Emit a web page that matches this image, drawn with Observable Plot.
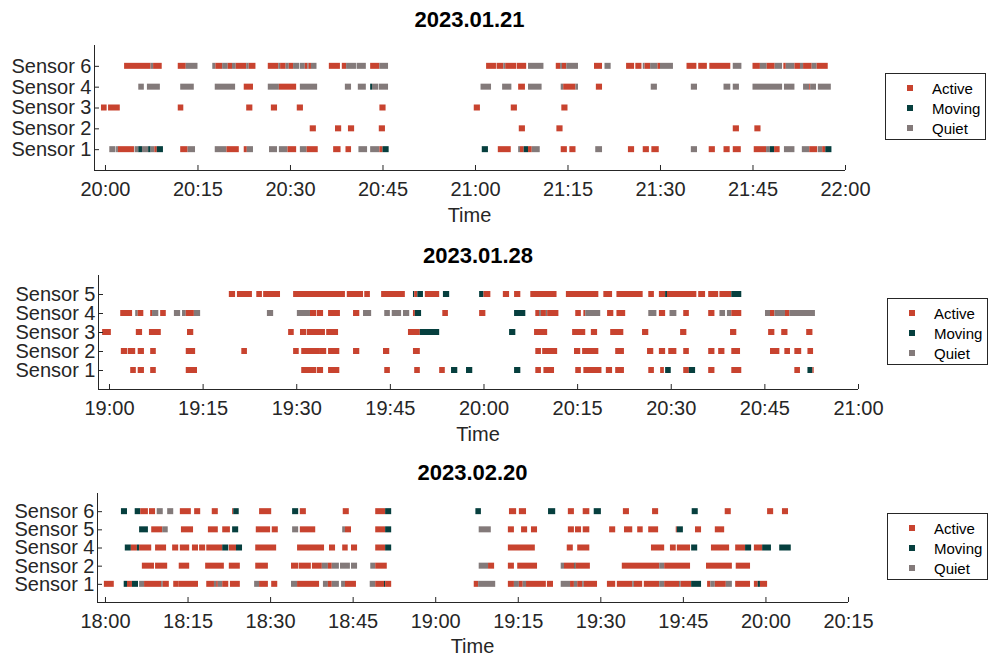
<!DOCTYPE html>
<html><head><meta charset="utf-8">
<script src="https://cdn.jsdelivr.net/npm/d3@7"></script>
<script src="https://cdn.jsdelivr.net/npm/@observablehq/plot@0.6"></script>
<style>
body{margin:0;background:#fff;}
#root{position:relative;width:994px;height:657px;font-family:"Liberation Sans",Arial,Helvetica,sans-serif;color:#262626;overflow:hidden;background:#fff}
.title{position:absolute;font-weight:bold;font-size:22px;transform:translate(-50%,-50%);white-space:nowrap;color:#000}
.xlabel{position:absolute;font-size:20px;transform:translate(-50%,-50%);white-space:nowrap;color:#262626}
.legend{position:absolute;border:1px solid #262626;background:#fff;box-sizing:border-box}
.legend .sw{position:absolute;width:6px;height:6px}
.legend .tx{position:absolute;font-size:15px;line-height:15px;transform:translateY(-50%);white-space:nowrap;color:#000}
.panel{position:absolute;left:0}
</style></head>
<body><div id="root"></div>
<script>
// ---------- data (minutes after the first tick; [start, end, state]) ----------
const stateCodes = ["A", "M", "Q"];
const stateNames = ["Active", "Moving", "Quiet"];
const stateColors = ["#c8432f", "#063f3e", "#837a7a"];

// Panel 1: 2023.01.21
const p1Title = "2023.01.21";
const p1SensorLabels = ["Sensor 6", "Sensor 4", "Sensor 3", "Sensor 2", "Sensor 1"];
const p1TickMinutes = [0, 15, 30, 45, 60, 75, 90, 105, 120];
const p1TickLabels = ["20:00", "20:15", "20:30", "20:45", "21:00", "21:15", "21:30", "21:45", "22:00"];
const p1Sensor6 = [
[3.1,7.4,"A"],[7.4,7.8,"Q"],[7.8,9.2,"A"],
[11.8,13.1,"A"],[13.1,15.0,"Q"],
[17.4,17.9,"Q"],[17.9,19.0,"A"],[19.0,19.9,"Q"],[19.9,20.6,"A"],[20.6,21.2,"Q"],[21.2,22.9,"A"],[22.9,23.3,"Q"],[23.3,24.4,"A"],
[26.4,28.1,"A"],[28.1,28.4,"Q"],[28.4,29.3,"A"],[29.3,29.8,"Q"],[29.8,30.5,"A"],[30.5,31.5,"Q"],[31.6,32.4,"Q"],[32.4,32.8,"A"],[32.8,33.0,"Q"],[33.0,33.4,"A"],[33.4,34.3,"Q"],
[36.3,38.1,"A"],[38.4,39.1,"A"],[39.1,40.7,"Q"],[40.8,42.3,"Q"],
[43.0,44.5,"A"],[44.5,45.9,"Q"],
[61.8,63.4,"A"],[63.5,64.6,"A"],[64.6,64.9,"Q"],[64.9,66.7,"A"],[66.8,68.3,"A"],[68.6,71.1,"Q"],
[73.1,73.8,"A"],[73.8,74.1,"Q"],[74.1,74.8,"A"],[74.8,76.7,"Q"],
[79.3,80.6,"A"],[81.0,82.0,"Q"],
[84.5,85.8,"A"],[86.0,87.0,"A"],[87.2,87.5,"Q"],[87.5,88.4,"A"],[88.4,89.6,"Q"],[89.6,90.0,"A"],[90.0,92.1,"Q"],
[94.3,95.9,"A"],[96.2,97.6,"A"],[98.0,101.4,"A"],[101.8,103.2,"Q"],
[105.0,106.2,"A"],[106.2,107.3,"Q"],[107.3,108.6,"A"],[108.6,109.8,"Q"],[110.0,110.4,"A"],[110.4,111.8,"Q"],[111.8,112.7,"A"],[112.7,113.2,"Q"],[113.2,114.6,"A"],[114.6,115.4,"Q"],[115.4,117.2,"A"]
];
const p1Sensor4 = [
[5.4,6.3,"Q"],[6.8,8.9,"Q"],[12.2,14.4,"Q"],[17.8,21.1,"Q"],[22.5,24.0,"A"],[26.4,28.2,"Q"],[28.2,31.0,"A"],
[31.6,34.4,"Q"],[38.9,39.9,"Q"],[41.0,42.3,"Q"],[43.0,43.3,"M"],[43.3,44.3,"Q"],[44.4,45.9,"Q"],
[60.9,62.6,"Q"],[64.4,65.9,"Q"],[67.0,68.1,"A"],[68.6,70.8,"Q"],[73.9,74.3,"Q"],[74.3,76.3,"A"],[76.3,76.7,"Q"],[79.6,80.6,"A"],[88.5,89.5,"Q"],
[95.0,96.0,"Q"],[100.3,101.4,"Q"],[101.8,102.8,"Q"],[105.0,109.8,"Q"],[110.1,111.8,"Q"],[113.2,114.2,"Q"],[114.2,114.35,"A"],[114.35,115.3,"Q"],[115.6,117.7,"Q"]
];
const p1Sensor3 = [[-0.65,0.27,"A"],[0.5,2.4,"A"],[11.8,12.7,"A"],[22.9,23.9,"A"],[26.9,27.9,"A"],[31.1,32.1,"A"],[44.5,45.5,"A"],[59.8,60.8,"A"],[65.8,66.8,"A"],[74.0,75.0,"A"]];
const p1Sensor2 = [[33.2,34.2,"A"],[37.3,38.3,"A"],[39.4,40.4,"A"],[44.4,45.4,"A"],[67.1,68.1,"A"],[73.2,74.2,"A"],[101.8,102.8,"A"],[105.3,106.3,"A"]];
const p1Sensor1 = [
[0.7,1.7,"Q"],[1.8,2.1,"Q"],[2.1,4.7,"A"],[4.8,5.4,"Q"],[5.4,6.0,"M"],[6.0,7.0,"Q"],[7.0,7.4,"M"],[7.4,8.0,"Q"],[8.0,8.4,"A"],[8.4,9.4,"M"],
[12.2,13.4,"A"],[13.4,14.6,"Q"],
[17.8,19.7,"Q"],[19.7,21.7,"A"],[22.5,23.0,"A"],[23.0,24.0,"Q"],
[26.6,27.9,"Q"],[28.2,29.6,"Q"],[29.6,31.0,"A"],[31.6,32.7,"Q"],[32.7,34.5,"A"],
[37.0,38.2,"A"],[39.0,39.9,"A"],[41.1,42.5,"Q"],[43.0,44.5,"Q"],[44.5,45.0,"A"],[45.0,46.0,"M"],
[61.1,62.1,"M"],[63.7,65.8,"A"],[67.0,67.3,"Q"],[67.3,67.9,"A"],[67.9,68.6,"M"],[68.6,69.2,"A"],[69.2,70.5,"Q"],
[73.9,74.9,"A"],[75.3,76.3,"A"],[79.5,80.6,"Q"],[84.8,85.8,"A"],[87.2,88.2,"A"],[88.6,89.8,"A"],
[95.0,96.0,"Q"],[97.9,98.9,"A"],[100.3,101.3,"A"],[101.8,103.1,"A"],
[105.2,107.2,"A"],[107.2,107.8,"Q"],[107.8,108.5,"M"],[108.5,109.4,"A"],[110.1,111.8,"Q"],
[113.0,114.2,"Q"],[114.2,115.5,"A"],[115.6,116.3,"Q"],[116.3,116.8,"A"],[116.8,117.8,"M"]
];

// Panel 2: 2023.01.28
const p2Title = "2023.01.28";
const p2SensorLabels = ["Sensor 5", "Sensor 4", "Sensor 3", "Sensor 2", "Sensor 1"];
const p2TickMinutes = [0, 15, 30, 45, 60, 75, 90, 105, 120];
const p2TickLabels = ["19:00", "19:15", "19:30", "19:45", "20:00", "20:15", "20:30", "20:45", "21:00"];
const p2Sensor5 = [
[19.2,20.2,"A"],[20.5,22.9,"A"],[23.6,24.5,"A"],[24.7,27.4,"A"],
[29.5,37.8,"A"],[38.1,40.7,"A"],[40.9,41.8,"A"],[43.6,47.4,"A"],
[48.7,48.9,"M"],[48.9,49.4,"A"],[49.4,50.3,"M"],[50.6,52.9,"A"],[53.5,54.5,"M"],
[59.3,60.0,"M"],[60.0,61.1,"A"],[63.1,64.1,"A"],[64.9,65.9,"A"],[67.5,71.7,"A"],[73.2,78.4,"A"],[79.2,80.6,"A"],[81.3,85.5,"A"],[86.4,87.3,"A"],[88.1,89.1,"A"],[89.1,89.4,"M"],[89.4,94.1,"A"],[94.4,95.5,"A"],[96.0,97.6,"A"],[97.8,99.7,"A"],[99.7,101.3,"M"]
];
const p2Sensor4 = [
[1.8,3.7,"A"],[4.2,4.6,"Q"],[4.6,5.5,"A"],[6.6,6.9,"A"],[6.9,7.9,"Q"],[8.2,9.1,"A"],[10.4,11.4,"Q"],[11.7,12.3,"Q"],[12.3,13.6,"A"],[13.6,14.6,"Q"],[25.3,26.3,"Q"],
[30.1,32.2,"Q"],[32.2,33.2,"A"],[33.3,34.3,"A"],[35.1,37.0,"A"],[39.1,40.1,"A"],[40.7,42.0,"Q"],[44.1,45.0,"Q"],[45.3,46.8,"Q"],[47.1,48.1,"Q"],[48.7,49.0,"A"],[49.0,50.0,"M"],[53.4,54.3,"A"],
[59.3,60.3,"A"],[64.9,66.7,"M"],[68.3,68.9,"A"],[68.9,69.2,"Q"],[69.2,70.0,"A"],[70.0,70.2,"Q"],[70.2,72.0,"A"],[74.7,75.6,"A"],[76.0,76.3,"A"],[76.3,78.7,"Q"],[79.8,80.8,"A"],[81.3,82.7,"A"],[86.4,87.7,"Q"],[88.1,89.1,"A"],[89.8,90.9,"Q"],
[92.0,92.9,"A"],[96.0,97.0,"A"],[97.8,98.7,"Q"],[99.0,99.7,"Q"],[99.7,101.3,"A"],
[105.1,105.9,"Q"],[105.9,106.6,"A"],[106.6,108.3,"Q"],[108.3,109.0,"A"],[109.0,113.1,"Q"]
];
const p2Sensor3 = [
[-1.1,0.3,"A"],[4.3,5.3,"A"],[6.4,8.3,"A"],[12.5,13.5,"A"],[28.7,29.6,"A"],[30.6,31.6,"A"],[31.7,34.6,"A"],[34.8,36.7,"A"],[47.9,49.8,"A"],[49.8,52.9,"M"],
[64.1,65.1,"M"],[68.1,70.2,"A"],[74.2,76.3,"A"],[77.2,78.2,"A"],[80.3,82.4,"A"],[85.4,86.4,"A"],
[91.5,92.5,"A"],[99.5,100.5,"A"],[105.6,106.6,"A"],[107.7,108.7,"A"],[111.7,112.7,"A"]
];
const p2Sensor2 = [
[1.9,2.9,"A"],[3.0,4.2,"A"],[4.6,5.6,"A"],[6.6,7.5,"A"],[12.3,13.8,"A"],[21.2,22.1,"A"],
[29.5,30.4,"A"],[30.8,33.8,"A"],[33.8,34.8,"A"],[35.1,36.9,"A"],[39.1,40.1,"A"],[43.9,44.9,"A"],[48.7,49.8,"A"],
[68.3,69.2,"A"],[69.4,71.8,"A"],[74.5,75.5,"A"],[75.8,78.4,"A"],[81.1,82.5,"A"],[86.2,87.2,"A"],[88.1,89.1,"A"],[89.6,90.9,"A"],
[92.0,92.9,"A"],[96.0,97.0,"A"],[97.6,98.6,"A"],[99.7,101.1,"A"],[105.9,107.4,"A"],[108.2,109.1,"A"],[109.8,110.9,"A"],[111.9,112.8,"A"]
];
const p2Sensor1 = [
[3.4,4.3,"A"],[4.6,5.6,"A"],[6.6,7.5,"A"],[12.3,14.1,"A"],
[30.8,33.2,"A"],[33.3,34.3,"A"],[35.1,36.9,"A"],[44.1,45.0,"A"],[48.9,49.8,"A"],[52.9,53.8,"A"],[54.8,55.8,"M"],[57.2,58.2,"M"],
[64.9,65.9,"M"],[68.3,69.2,"A"],[69.6,71.3,"A"],[74.7,75.6,"A"],[76.0,78.9,"A"],[79.6,80.6,"A"],[81.1,82.5,"A"],[86.4,87.3,"A"],[88.3,88.9,"A"],[89.1,90.0,"M"],
[92.0,92.9,"A"],[92.9,93.9,"M"],[96.0,97.0,"A"],[99.7,101.3,"A"],[109.8,110.7,"A"],[111.9,112.7,"M"],[112.7,112.9,"A"]
];

// Panel 3: 2023.02.20
const p3Title = "2023.02.20";
const p3SensorLabels = ["Sensor 6", "Sensor 5", "Sensor 4", "Sensor 2", "Sensor 1"];
const p3TickMinutes = [0, 15, 30, 45, 60, 75, 90, 105, 120, 135];
const p3TickLabels = ["18:00", "18:15", "18:30", "18:45", "19:00", "19:15", "19:30", "19:45", "20:00", "20:15"];
const p3Sensor6 = [
[2.9,4.0,"M"],[5.4,6.4,"M"],[6.4,7.8,"A"],[8.0,9.1,"A"],[9.4,10.5,"Q"],[11.3,12.4,"Q"],[13.6,15.6,"A"],[16.2,17.3,"A"],[19.4,20.5,"A"],[23.1,23.3,"A"],[23.3,24.3,"M"],[28.0,30.2,"A"],
[34.0,35.1,"M"],[35.4,36.5,"A"],[43.2,44.3,"A"],[49.1,50.9,"A"],[50.9,52.0,"M"],
[67.3,68.3,"M"],[73.4,74.7,"A"],[75.2,76.5,"A"],[80.5,81.8,"M"],[84.1,85.2,"A"],[86.8,88.0,"A"],[88.8,90.1,"M"],[94.1,95.2,"A"],[99.4,100.5,"A"],
[106.6,107.7,"M"],[112.6,113.7,"A"],[120.3,121.4,"A"],[123.0,124.1,"A"]
];
const p3Sensor5 = [
[6.2,7.8,"M"],[8.4,10.4,"A"],[10.4,11.4,"Q"],[13.8,16.0,"A"],[18.7,20.5,"A"],[21.3,22.7,"A"],[23.1,24.2,"M"],[27.4,30.0,"A"],[30.3,31.4,"A"],
[34.0,35.1,"Q"],[35.4,38.2,"A"],[43.1,43.6,"Q"],[43.6,44.7,"A"],[49.1,50.9,"A"],[50.9,52.0,"M"],
[67.9,70.1,"Q"],[73.2,74.3,"A"],[75.6,76.7,"A"],[77.4,78.5,"A"],[84.1,85.2,"A"],[85.4,86.5,"A"],[86.8,88.0,"A"],[91.6,92.7,"A"],[94.3,95.8,"A"],[96.7,97.7,"A"],[98.7,100.5,"A"],
[103.7,103.9,"A"],[103.9,105.0,"M"],[107.2,108.3,"A"],[110.8,112.5,"A"]
];
const p3Sensor4 = [
[3.6,4.7,"M"],[4.7,5.8,"A"],[5.8,6.2,"M"],[6.2,8.4,"A"],[9.1,11.1,"A"],[12.2,13.3,"A"],[13.6,15.3,"A"],[15.8,16.9,"A"],[17.1,18.2,"A"],[18.4,21.3,"A"],[21.3,22.4,"M"],[22.5,23.8,"A"],[23.8,24.9,"M"],[27.3,31.1,"A"],
[34.9,39.8,"A"],[40.7,41.8,"A"],[43.1,44.1,"A"],[44.7,45.8,"A"],[49.1,50.9,"A"],[50.9,52.0,"M"],
[73.2,78.1,"A"],[83.9,85.0,"A"],[85.8,88.0,"A"],[99.2,101.6,"A"],
[102.65,103.7,"A"],[103.9,106.3,"A"],[106.5,107.6,"M"],[110.1,113.4,"A"],[114.5,116.3,"A"],[116.3,117.4,"M"],[117.9,119.4,"A"],[119.4,121.0,"M"],[122.5,124.6,"M"]
];
const p3Sensor2 = [
[6.7,8.9,"A"],[9.1,11.3,"A"],[13.4,15.3,"A"],[18.2,21.6,"A"],[22.5,24.5,"A"],[27.3,29.6,"A"],
[33.8,35.1,"A"],[35.2,37.4,"A"],[37.6,39.4,"A"],[39.4,40.5,"Q"],[40.5,41.2,"A"],[41.2,42.5,"Q"],[42.7,44.5,"Q"],[44.7,45.8,"Q"],[48.2,49.1,"Q"],[49.1,51.2,"A"],
[67.9,69.6,"Q"],[69.6,70.7,"A"],[73.2,74.3,"A"],[74.9,78.5,"A"],[82.8,83.4,"Q"],[83.4,85.3,"A"],[85.3,85.5,"M"],[85.5,88.1,"A"],[93.9,100.7,"A"],[100.7,101.6,"Q"],[101.6,106.3,"A"],
[109.2,113.9,"A"],[114.6,117.2,"A"]
];
const p3Sensor1 = [
[-0.2,1.6,"A"],[3.4,4.0,"M"],[4.0,4.9,"A"],[4.9,6.0,"M"],[6.2,7.1,"Q"],[7.1,10.2,"A"],[10.2,10.5,"Q"],[10.5,11.6,"A"],[12.4,13.4,"A"],[13.4,16.9,"A"],
[18.4,19.8,"A"],[19.8,20.2,"Q"],[20.2,20.5,"A"],[20.5,21.3,"Q"],[21.3,22.4,"A"],[22.7,24.5,"A"],[27.1,28.0,"Q"],[28.0,29.6,"A"],[30.2,31.3,"A"],
[33.8,34.9,"Q"],[34.9,38.9,"A"],[39.6,40.5,"Q"],[40.5,41.2,"A"],[41.2,42.5,"Q"],[42.9,43.6,"Q"],[43.6,45.6,"A"],[48.1,49.1,"Q"],[49.1,50.7,"A"],[50.7,50.9,"M"],[50.9,52.0,"A"],
[67.0,67.8,"A"],[67.8,70.9,"Q"],[73.2,74.3,"A"],[74.3,75.2,"Q"],[75.2,75.9,"A"],[75.9,76.5,"Q"],[76.5,80.1,"A"],[80.3,81.4,"A"],
[82.8,84.5,"Q"],[84.5,85.2,"A"],[85.2,85.8,"Q"],[85.8,86.7,"A"],[86.7,87.0,"Q"],[87.0,89.4,"A"],
[91.2,92.7,"A"],[93.0,95.8,"A"],[95.8,96.1,"Q"],[96.1,97.6,"A"],[97.9,100.7,"A"],[100.7,101.6,"Q"],[101.6,104.3,"A"],[104.3,104.6,"Q"],[104.6,106.5,"A"],[106.5,108.3,"M"],
[109.4,110.0,"A"],[110.0,110.8,"Q"],[110.8,112.8,"A"],[112.8,113.9,"Q"],[114.5,117.2,"A"],[117.9,118.6,"A"],[118.6,119.0,"M"],[119.0,120.3,"A"]
];

// ---------- layout ----------
const panels = [
  {title: p1Title, labels: p1SensorLabels, rows: [p1Sensor6, p1Sensor4, p1Sensor3, p1Sensor2, p1Sensor1],
   ticks: p1TickMinutes, tickLabels: p1TickLabels,
   L: {svgTop: 30, plotTop: 45, plotBottom: 170, left: 94, right: 845, xLo: -1.78, xHi: 120, titleY: 20, xlabelY: 215, legLeft: 885, legTop: 73}},
  {title: p2Title, labels: p2SensorLabels, rows: [p2Sensor5, p2Sensor4, p2Sensor3, p2Sensor2, p2Sensor1],
   ticks: p2TickMinutes, tickLabels: p2TickLabels,
   L: {svgTop: 260, plotTop: 275, plotBottom: 389, left: 98, right: 858, xLo: -1.76, xHi: 120, titleY: 256, xlabelY: 434, legLeft: 887, legTop: 298}},
  {title: p3Title, labels: p3SensorLabels, rows: [p3Sensor6, p3Sensor5, p3Sensor4, p3Sensor2, p3Sensor1],
   ticks: p3TickMinutes, tickLabels: p3TickLabels,
   L: {svgTop: 478, plotTop: 493, plotBottom: 602, left: 97, right: 848, xLo: -1.45, xHi: 135, titleY: 473, xlabelY: 646, legLeft: 887, legTop: 513}}
];

const root = document.getElementById("root");
const FONT = '"Liberation Sans", Arial, Helvetica, sans-serif';

panels.forEach(p => {
  const L = p.L;
  const n = p.labels.length;
  const data = [];
  p.rows.forEach((segs, i) => segs.forEach(([a, b, s]) => data.push({row: n - i, x1: a, x2: b, state: s})));
  const plotH = L.plotBottom - L.plotTop;
  const step = plotH / (n + 1);
  const inset = (step - 6) / 2;
  const marginTop = L.plotTop - L.svgTop;
  const marginBottom = 40;
  const marginRight = 25;
  const chart = Plot.plot({
    width: L.right + marginRight,
    height: marginTop + plotH + marginBottom,
    marginLeft: L.left, marginRight, marginTop, marginBottom,
    style: {background: "transparent", fontFamily: FONT, fontSize: "20px", color: "#262626", overflow: "visible"},
    x: {domain: [L.xLo, L.xHi]},
    y: {domain: [0, n + 1]},
    color: {domain: stateCodes, range: stateColors},
    marks: [
      Plot.rect(data, {x1: "x1", x2: "x2", y1: d => d.row - 0.5, y2: d => d.row + 0.5, insetTop: inset, insetBottom: inset, fill: "state"}),
      Plot.ruleX([L.xLo], {stroke: "#262626"}),
      Plot.ruleY([0], {stroke: "#262626"}),
      Plot.axisX({ticks: p.ticks, tickFormat: m => p.tickLabels[p.ticks.indexOf(m)], tickSize: -5, tickPadding: 16, label: null, stroke: "#262626"}),
      Plot.axisY({ticks: d3.range(1, n + 1), tickFormat: r => p.labels[n - r], tickSize: -5, tickPadding: 8, label: null, stroke: "#262626"})
    ]
  });
  const wrap = document.createElement("div");
  wrap.className = "panel";
  wrap.style.top = L.svgTop + "px";
  wrap.appendChild(chart);
  root.appendChild(wrap);

  const cx = (L.left + L.right) / 2;
  const t = document.createElement("div");
  t.className = "title"; t.textContent = p.title;
  t.style.left = cx + "px"; t.style.top = L.titleY + "px";
  root.appendChild(t);

  const xl = document.createElement("div");
  xl.className = "xlabel"; xl.textContent = "Time";
  xl.style.left = cx + "px"; xl.style.top = L.xlabelY + "px";
  root.appendChild(xl);

  const leg = document.createElement("div");
  leg.className = "legend";
  leg.style.left = L.legLeft + "px"; leg.style.top = L.legTop + "px";
  leg.style.width = "101px"; leg.style.height = "67px";
  stateNames.forEach((name, i) => {
    const sw = document.createElement("div");
    sw.className = "sw"; sw.style.background = stateColors[i];
    sw.style.left = "21px"; sw.style.top = (14 + 20 * i - 3) + "px";
    leg.appendChild(sw);
    const tx = document.createElement("div");
    tx.className = "tx"; tx.textContent = name;
    tx.style.left = "46px"; tx.style.top = (14 + 20 * i) + "px";
    leg.appendChild(tx);
  });
  root.appendChild(leg);
});
</script>
</body></html>
